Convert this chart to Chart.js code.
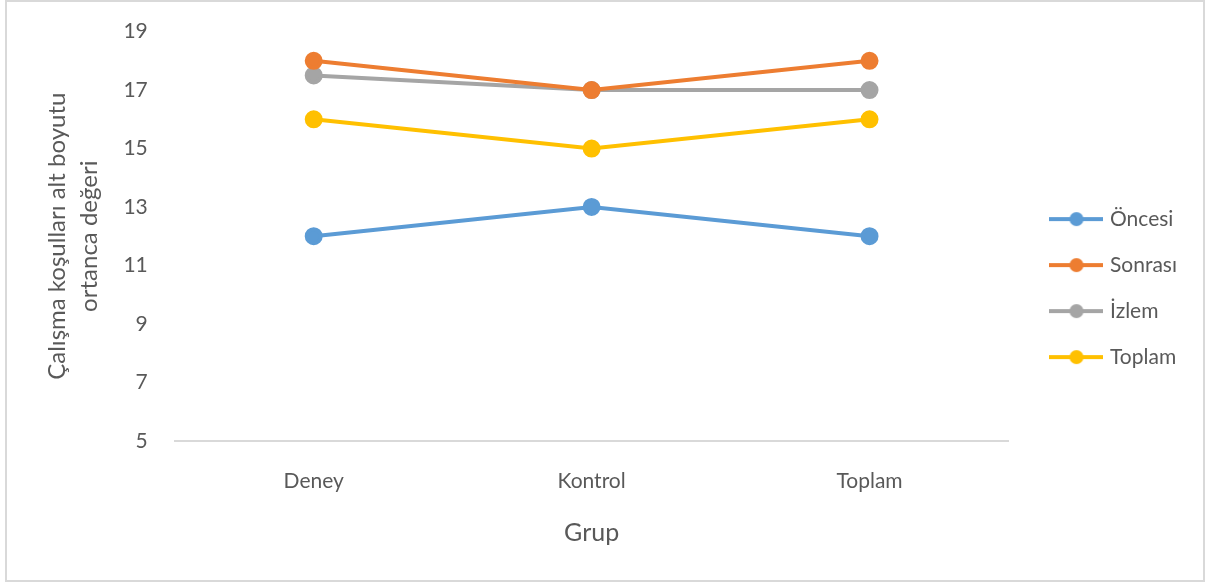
<!DOCTYPE html>
<html>
<head>
<meta charset="utf-8">
<script src="https://cdn.jsdelivr.net/npm/chart.js@4"></script>
<style>
  html, body { margin: 0; padding: 0; background: #fff; }
  #wrap { position: relative; width: 1212px; height: 585px; }
  #frame { position: absolute; left: 5px; top: 0; width: 1200px; height: 582px; border: 2px solid #d9d9d9; box-sizing: border-box; pointer-events: none; }
</style>
</head>
<body>
<div id="wrap">
  <canvas id="grup-chart" width="1212" height="585"></canvas>
  <div id="frame"></div>
</div>
<script>
const groups = ['Deney', 'Kontrol', 'Toplam'];
const oncesi = [12, 13, 12];
const sonrasi = [18, 17, 18];
const izlem = [17.5, 17, 17];
const toplam = [16, 15, 16];

const seriesNames = ['Öncesi', 'Sonrası', 'İzlem', 'Toplam'];
const seriesColors = ['#5b9bd5', '#ed7d31', '#a5a5a5', '#ffc000'];

const font = 'Lato, "Open Sans", sans-serif';
const grey = '#595959';

// legend marker: short line with a dot in the middle
function legendMarker(color) {
    const c = document.createElement('canvas');
    c.width = 54;
    c.height = 16;
    const ctx = c.getContext('2d');
    ctx.strokeStyle = color;
    ctx.lineWidth = 4;
    ctx.beginPath();
    ctx.moveTo(0, 8);
    ctx.lineTo(54, 8);
    ctx.stroke();
    ctx.fillStyle = color;
    ctx.beginPath();
    ctx.arc(27, 8, 7, 0, Math.PI * 2);
    ctx.fill();
    return c;
}

const values = [oncesi, sonrasi, izlem, toplam];

const grupChart = new Chart(document.getElementById('grup-chart'), {
    type: 'line',
    data: {
        labels: groups,
        datasets: values.map((v, i) => ({
            label: seriesNames[i],
            data: v,
            borderColor: seriesColors[i],
            backgroundColor: seriesColors[i],
            borderWidth: 4,
            pointRadius: 7,
            pointHoverRadius: 7,
            tension: 0
        }))
    },
    options: {
        responsive: false,
        animation: false,
        layout: {
            padding: { left: 42, right: 25, top: 3, bottom: 37 }
        },
        plugins: {
            tooltip: { enabled: false },
            legend: {
                position: 'right',
                // empty title only pushes the items down a little
                title: { display: true, text: ' ', padding: 0, font: { family: font, size: 21, lineHeight: 1.2 } },
                labels: {
                    usePointStyle: true,
                    pointStyleWidth: 46,
                    color: grey,
                    font: { family: font, size: 21 },
                    padding: 25,
                    generateLabels: chart => chart.data.datasets.map((ds, i) => ({
                        text: ds.label,
                        pointStyle: legendMarker(seriesColors[i]),
                        fillStyle: seriesColors[i],
                        strokeStyle: seriesColors[i],
                        lineWidth: 0,
                        fontColor: grey,
                        datasetIndex: i
                    }))
                }
            }
        },
        scales: {
            x: {
                offset: true,
                grid: { display: false },
                border: { display: true, color: '#d9d9d9', width: 2 },
                ticks: { color: grey, font: { family: font, size: 21 }, padding: 20 },
                title: {
                    display: true,
                    text: 'Grup',
                    color: grey,
                    font: { family: font, size: 25 },
                    padding: { top: 4, bottom: 0 }
                }
            },
            y: {
                min: 5,
                max: 19,
                grid: { display: false },
                border: { display: false },
                ticks: { stepSize: 2, color: grey, font: { family: font, size: 21 }, padding: 19 },
                title: {
                    display: true,
                    text: ['Çalışma koşulları alt boyutu', 'ortanca değeri'],
                    color: grey,
                    font: { family: font, size: 24, lineHeight: 1.3 },
                    padding: 0
                }
            },
            // blank strip between plot and legend
            gap: {
                type: 'linear',
                position: 'right',
                grid: { display: false },
                border: { display: false },
                ticks: { display: false },
                afterFit: scale => { scale.width = 20; }
            }
        }
    }
});
</script>
</body>
</html>
